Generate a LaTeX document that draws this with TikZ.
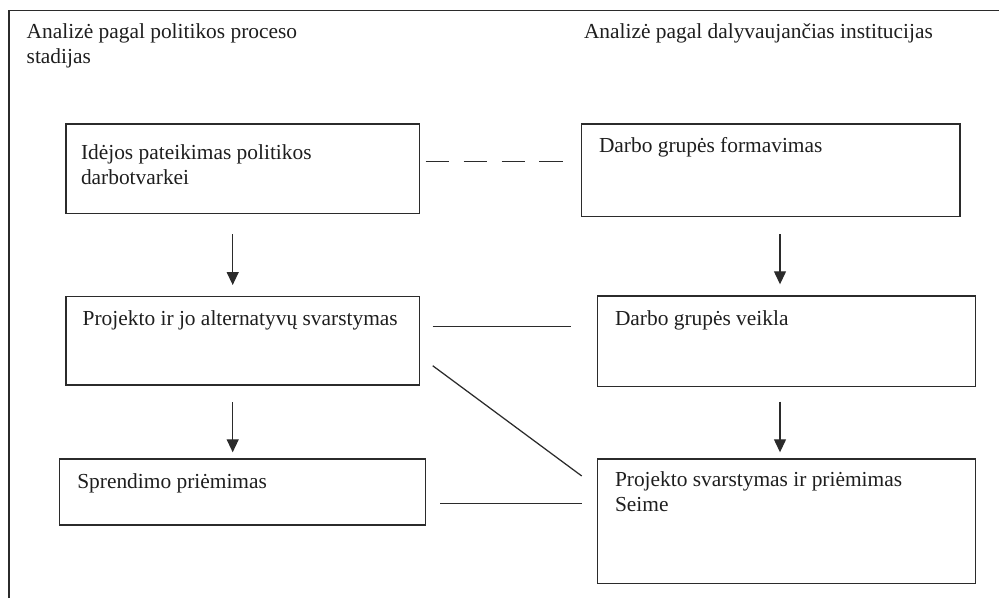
\documentclass[tikz,border=0pt]{standalone}
\usepackage{fontspec}
\setmainfont{Liberation Serif}
\usetikzlibrary{arrows.meta}
\definecolor{linec}{HTML}{2B2B2B}
\definecolor{textc}{HTML}{1E1E1E}
\tikzset{
  box/.style={draw=linec, line width=1.5pt, inner sep=0pt, outer sep=0pt},
  txt/.style={anchor=base west, inner sep=0pt, outer sep=0pt, text=textc,
              font=\fontsize{21.4pt}{24.7pt}\selectfont},
  conn/.style={draw=linec, line width=1.25pt},
  arr/.style={conn, -{Triangle[width=12pt,length=13pt]}},
}
\begin{document}
\begin{tikzpicture}[x=1pt,y=-1pt]
\useasboundingbox (0,0) rectangle (999,598);
% outer frame
\draw[conn, line width=1.4pt] (9,598) -- (9,10.7) -- (999,10.7);
% titles
\node[txt] (t1) at (26.7,38.8) {Analizė pagal politikos proceso};
\node[txt] (t2) at (26.7,63.5) {stadijas};
\node[txt] (t3) at (584,38.3) {Analizė pagal dalyvaujančias institucijas};
% boxes
\node[box, minimum width=353.3pt, minimum height=89.3pt] (A) at (242.65,168.65) {};
\node[box, minimum width=378.3pt, minimum height=92.7pt] (B) at (770.85,170.35) {};
\node[box, minimum width=353.3pt, minimum height=88.3pt] (C) at (242.65,340.85) {};
\node[box, minimum width=378pt, minimum height=90.7pt] (D) at (786.7,341.35) {};
\node[box, minimum width=366.4pt, minimum height=66pt] (E) at (242.5,492) {};
\node[box, minimum width=378pt, minimum height=124.3pt] (F) at (786.7,521.15) {};
% texts
\node[txt] (a1) at (81,159.3) {Idėjos pateikimas politikos};
\node[txt] (a2) at (81,184.0) {darbotvarkei};
\node[txt] (b1) at (599,152.3) {Darbo grupės formavimas};
\node[txt] (c1) at (82.7,325) {Projekto ir jo alternatyvų svarstymas};
\node[txt] (d1) at (615,325) {Darbo grupės veikla};
\node[txt] (e1) at (77.3,488) {Sprendimo priėmimas};
\node[txt] (f1) at (615,486.7) {Projekto svarstymas ir priėmimas};
\node[txt] (f2) at (615,511.4) {Seime};
% arrow columns
\coordinate (xl) at (232.7,0);
\coordinate (xr) at (780,0);
% arrows
\draw[arr, shorten <=21pt, shorten >=11.7pt] (A.south -| xl) -- (C.north -| xl);
\draw[arr, shorten <=17.3pt, shorten >=6.7pt] (C.south -| xl) -- (E.north -| xl);
\draw[arr, shorten <=17.6pt, shorten >=11.7pt] (B.south -| xr) -- (D.north -| xr);
\draw[arr, shorten <=15pt, shorten >=6.7pt] (D.south -| xr) -- (F.north -| xr);
% connectors
\draw[conn, dash pattern=on 23.3pt off 14.6pt, shorten <=6.4pt, shorten >=18.7pt]
  ([yshift=6.95pt]A.east) -- ([yshift=6.95pt]A.east -| B.west);
\draw[conn, shorten <=13.4pt, shorten >=27pt]
  ([yshift=14.15pt]C.east) -- ([yshift=14.15pt]C.east -| D.west);
\draw[conn, shorten <=16.7pt, shorten >=19.9pt]
  ([yshift=-14.95pt]C.east) -- ([yshift=33.35pt]F.west);
\draw[conn, shorten <=14.3pt, shorten >=16pt]
  ([yshift=-11.3pt]E.east) -- ([yshift=-11.3pt]E.east -| F.west);
\end{tikzpicture}
\end{document}
